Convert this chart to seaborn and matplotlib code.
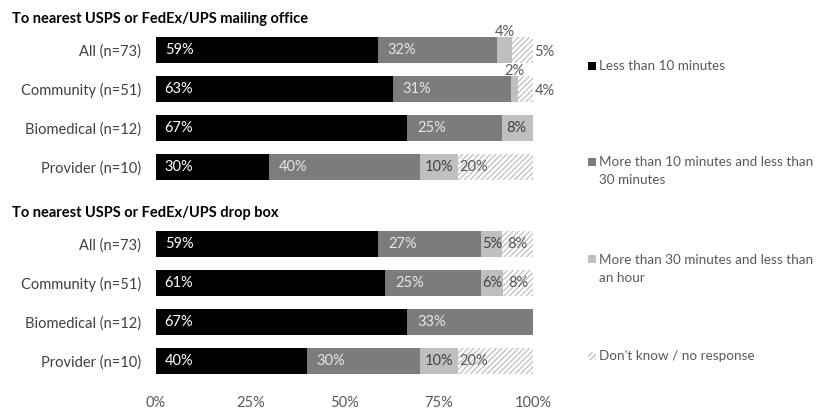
import matplotlib
matplotlib.use("Agg")
import matplotlib.pyplot as plt
from matplotlib.patches import Rectangle
import seaborn as sns
import pandas as pd

# ---------------- data ----------------
groups = ["All (n=73)", "Community (n=51)", "Biomedical (n=12)", "Provider (n=10)"]
sections = ["To nearest USPS or FedEx/UPS mailing office",
            "To nearest USPS or FedEx/UPS drop box"]
categories = ["Less than 10 minutes",
              "More than 10 minutes and less than\n30 minutes",
              "More than 30 minutes and less than\nan hour",
              "Don't know / no response"]

# percentages per group (rows) and category (columns)
mailing_office = [[58.90, 31.51, 4.11, 5.48],
                  [62.75, 31.37, 1.96, 3.92],
                  [66.67, 25.00, 8.33, 0.00],
                  [30.00, 40.00, 10.00, 20.00]]
drop_box = [[58.90, 27.40, 5.48, 8.22],
            [60.78, 25.49, 5.88, 7.84],
            [66.67, 33.33, 0.00, 0.00],
            [40.00, 30.00, 10.00, 20.00]]
x_ticks = [0, 25, 50, 75, 100]
x_tick_labels = ["0%", "25%", "50%", "75%", "100%"]

# ---------------- style ----------------
sns.set_theme(style="white")
plt.rcParams["font.family"] = ["Lato", "DejaVu Sans"]
plt.rcParams["hatch.linewidth"] = 0.9

colors = ["#000000", "#7c7c7c", "#bfbfbf", "#ffffff"]
label_colors = ["#ffffff", "#e6e6e6", "#404040", "#595959"]
hatch_color = "#bfbfbf"

W, H = 826, 412
fig = plt.figure(figsize=(W / 100, H / 100), dpi=100)

ax_top = fig.add_axes([156 / W, 1 - 186.5 / H, 377 / W, 156 / H])
ax_bot = fig.add_axes([156 / W, 1 - 380.5 / H, 377 / W, 156 / H])

FS = 10.5
LEG_FS = 9.7


def label_offset(i, v):
    if i == 0:
        return 2.3
    if i == 1:
        return 2.6
    if i == 2:
        return 1.3 if v >= 8 else 0.2
    return 0.4 if v >= 15 else 1.3


for ax, sec, vals in [(ax_top, sections[0], mailing_office), (ax_bot, sections[1], drop_box)]:
    df = pd.DataFrame(vals, columns=categories)
    cum = df[categories].cumsum(axis=1)
    # draw cumulative bars from the widest to the narrowest so they stack
    for i in reversed(range(len(categories))):
        d = pd.DataFrame({"group": groups, "cum": cum[categories[i]]})
        if i == 3:
            kw = dict(hatch="//////", edgecolor=hatch_color, linewidth=0)
        else:
            kw = dict(edgecolor="none", linewidth=0)
        sns.barplot(data=d, x="cum", y="group", orient="h", color=colors[i],
                    saturation=1, width=0.67, ax=ax, **kw)
    # value labels
    for r in range(len(groups)):
        left = 0
        for i in range(len(categories)):
            v = vals[r][i]
            if v <= 0:
                continue
            txt = f"{v:.0f}%"
            if i == 2 and v < 5:
                ax.text(left + v / 2, r - 0.47, txt, ha="center", va="center",
                        color="#595959", fontsize=FS)
            elif i == 3 and v < 6:
                ax.text(100.4, r + 0.04, txt, ha="left", va="center", color="#595959",
                        fontsize=FS, clip_on=False)
            else:
                ax.text(left + label_offset(i, v), r, txt, ha="left", va="center",
                        color=label_colors[i], fontsize=FS)
            left += v
    ax.set_xlim(0, 100)
    ax.set_xlabel("")
    ax.set_ylabel("")
    sns.despine(ax=ax, left=True, bottom=True)
    ax.tick_params(axis="y", length=0, pad=10.5, labelsize=FS, labelcolor="#404040")
    ax.tick_params(axis="x", length=0)

ax_top.set_xticks([])
ax_bot.set_xticks(x_ticks)
ax_bot.set_xticklabels(x_tick_labels)
ax_bot.tick_params(axis="x", pad=11, labelsize=FS, labelcolor="#595959")

fig.text(12 / W, 1 - 19 / H, sections[0], ha="left", va="center",
         fontsize=FS, fontweight="bold", color="#000000")
fig.text(12 / W, 1 - 213 / H, sections[1], ha="left", va="center",
         fontsize=FS, fontweight="bold", color="#000000")

# legend on the right
leg_y = [65.5, 162, 259, 356]
for i, cat in enumerate(categories):
    y = leg_y[i]
    rect = Rectangle((588 / W, 1 - (y + 4) / H), 8 / W, 8 / H,
                     transform=fig.transFigure, facecolor=colors[i],
                     edgecolor=hatch_color if i == 3 else "none", linewidth=0,
                     hatch="//////" if i == 3 else None)
    fig.patches.append(rect)
    fig.text(599 / W, 1 - (y - 5.5) / H, cat, ha="left", va="top",
             fontsize=LEG_FS, color="#595959", linespacing=1.6)

fig.savefig("out.png", dpi=100)
